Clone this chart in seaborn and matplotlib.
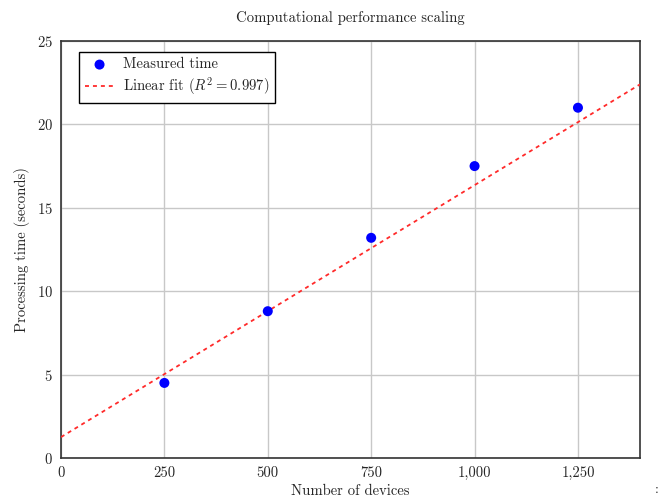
import matplotlib
matplotlib.use('Agg')
import matplotlib.pyplot as plt
import matplotlib.ticker as mticker
import seaborn as sns
import pandas as pd

# data
devices = [250, 500, 750, 1000, 1250]
measured_time = [4.5, 8.8, 13.2, 17.5, 21.0]
fit_devices = [0, 1400]
fit_time = [1.25, 22.4]
x_ticks = [0, 250, 500, 750, 1000, 1250]
y_ticks = [0, 5, 10, 15, 20, 25]

df_points = pd.DataFrame({'devices': devices, 'time': measured_time})
df_fit = pd.DataFrame({'devices': fit_devices, 'time': fit_time})

sns.set_style('white')
plt.rcParams['font.family'] = ['cmr10', 'DejaVu Serif']
plt.rcParams['mathtext.fontset'] = 'cm'
plt.rcParams['axes.formatter.use_mathtext'] = True

fs = 10.6
fig = plt.figure(figsize=(6.65, 5.03), dpi=100)
ax = fig.add_axes([0.0917, 0.0895, 0.8707, 0.829])

sns.lineplot(x='devices', y='time', data=df_fit, ax=ax, color='#ff2a2a',
             linestyle=(0, (2.2, 2.2)), linewidth=1.3,
             label=r'Linear fit ($R^2 = 0.997$)', zorder=3)
sns.scatterplot(x='devices', y='time', data=df_points, ax=ax, color='blue',
                s=52, edgecolor='none', label='Measured time', zorder=4)

ax.set_xlim(0, 1400)
ax.set_ylim(0, 25)
ax.set_xticks(x_ticks)
ax.set_yticks(y_ticks)
ax.xaxis.set_major_formatter(mticker.FuncFormatter(lambda v, p: f'{int(v):,}'))
ax.grid(True, color='#c8c8c8', linewidth=1.0)
ax.tick_params(direction='in', length=4, color='#555555', labelsize=fs, pad=6)
for s in ax.spines.values():
    s.set_color('#333333')
    s.set_linewidth(1.2)

ax.set_xlabel('Number of devices', fontsize=fs, labelpad=3)
ax.set_ylabel('Processing time (seconds)', fontsize=fs, labelpad=5)
ax.set_title('Computational performance scaling', fontsize=fs, pad=14)

handles, labels = ax.get_legend_handles_labels()
leg = ax.legend(handles[::-1], labels[::-1], loc='upper left',
                bbox_to_anchor=(0.031, 0.974), borderaxespad=0,
                fontsize=fs, frameon=True,
                fancybox=False, edgecolor='black', framealpha=1,
                handlelength=2.0, handletextpad=0.6, borderpad=0.4,
                labelspacing=0.25)
leg.get_frame().set_linewidth(1.0)

fig.text(0.99, 0.02, ':', fontsize=10, ha='right')

fig.savefig('out.png', dpi=100)
